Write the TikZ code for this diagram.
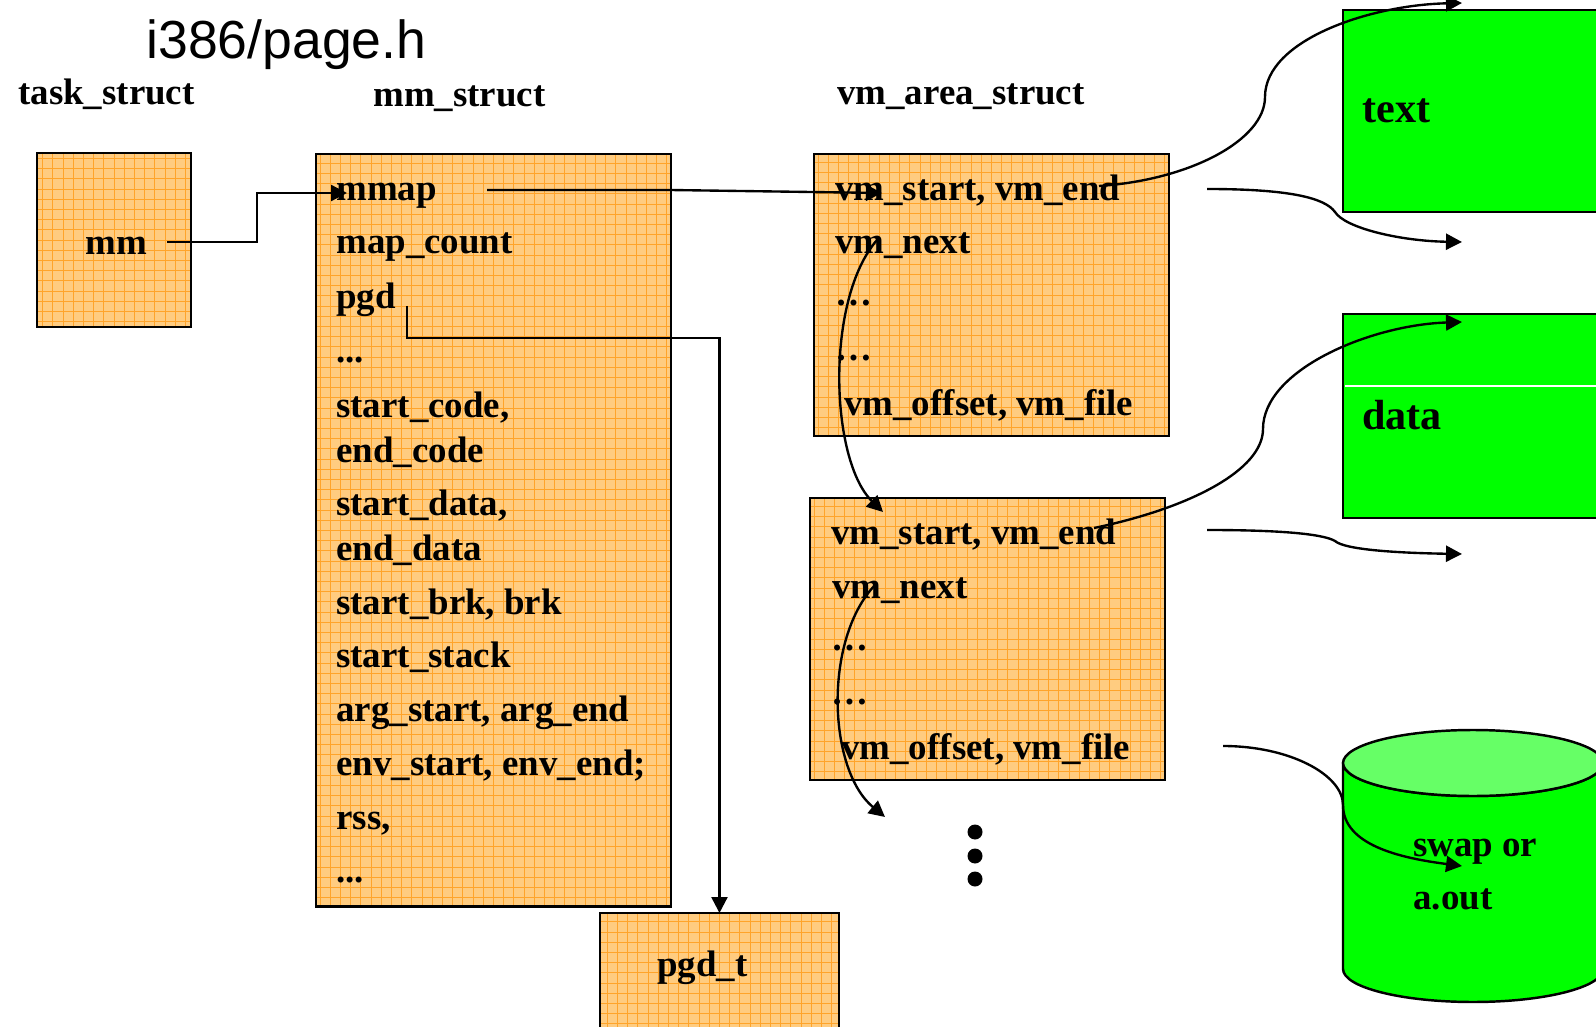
\documentclass[tikz,border=0pt]{standalone}
\usepackage{fontspec}
\setmainfont{Liberation Serif}
\newfontfamily\titlefont{Liberation Sans}
\usetikzlibrary{arrows.meta}
\definecolor{boxfill}{HTML}{FFCC80}
\definecolor{gridc}{HTML}{FFA42A}
\definecolor{segfill}{HTML}{00FF00}
\definecolor{disktop}{HTML}{66FF66}
\begin{document}
\begin{tikzpicture}[x=0.02cm,y=-0.02cm,
  lbl/.style={font=\fontsize{21}{25}\selectfont\bfseries, inner sep=0, anchor=base west},
  biglbl/.style={font=\fontsize{24}{28}\selectfont\bfseries, inner sep=0, anchor=base west},
  obox/.style={draw=black, line width=1.6pt, fill=boxfill, inner sep=0, outer sep=0,
    anchor=north west,
    path picture={\draw[gridc, line width=0.5pt, step=0.204cm]
      ([shift={(-0.3cm,-0.3cm)}]path picture bounding box.south west) grid
      ([shift={(0.3cm,0.3cm)}]path picture bounding box.north east);}},
  segbox/.style={draw=black, line width=1.6pt, fill=segfill, inner sep=0, outer sep=0,
    anchor=north west},
  link/.style={line width=1.35pt, -{Triangle[length=0.32cm,width=0.32cm]}},
]
\fill[white] (0,0) rectangle (1596,1027);
\useasboundingbox (0,0) rectangle (1596,1027);

% heading and structure names
\node[font=\fontsize{30.5}{34}\selectfont\titlefont, inner sep=0, anchor=base west] (title) at (146,59) {i386/page.h};
\node[lbl] (hTask) at (18,105) {task\_struct};
\node[lbl] (hMm) at (373,107) {mm\_struct};
\node[lbl] (hVma) at (837,105) {vm\_area\_struct};

% memory segments on the right
\node[segbox, minimum width=7.2cm, minimum height=4.04cm] (textseg) at (1343,10) {};
\node[segbox, minimum width=7.2cm, minimum height=4.08cm] (dataseg) at (1343,314) {};
\draw[white, line width=0.8pt] ([xshift=1pt]dataseg.west |- 0,386) -- (1640,386);
\node[biglbl] (textlbl) at (1362,123) {text};
\node[biglbl] (datalbl) at (1362,429) {data};

% disk
\draw[line width=1.4pt, fill=segfill] (1343,763) -- (1343,969)
  arc[start angle=180, end angle=360, x radius=2.6cm, y radius=0.66cm] -- (1603,763)
  arc[start angle=360, end angle=180, x radius=2.6cm, y radius=0.66cm] -- cycle;
\draw[line width=1.4pt, fill=disktop] (1473,763) ellipse [x radius=2.6cm, y radius=0.66cm];
\node[lbl] (swaplbl) at (1413,856) {swap or};
\node[lbl] (aoutlbl) at (1413,909) {a.out};

% task_struct
\node[obox, minimum width=3.08cm, minimum height=3.48cm] (taskbox) at (37,153) {};
\node[lbl] (mm) at (85,255) {mm};

% mm_struct
\node[obox, minimum width=7.1cm, minimum height=15.06cm] (mmbox) at (316,154) {};
\node[lbl] (mmap) at (336,201) {mmap};
\node[lbl] (mapcount) at (336,254) {map\_count};
\node[lbl] (pgd) at (336,309) {pgd};
\node[lbl] (mmdotsA) at (336,362) {...};
\node[lbl] (startcode) at (336,417) {start\_code,};
\node[lbl] (endcode) at (336,462) {end\_code};
\node[lbl] (startdata) at (336,515) {start\_data,};
\node[lbl] (enddata) at (336,560) {end\_data};
\node[lbl] (startbrk) at (336,614) {start\_brk, brk};
\node[lbl] (startstack) at (336,667) {start\_stack};
\node[lbl] (argstart) at (336,721) {arg\_start, arg\_end};
\node[lbl] (envstart) at (336,775) {env\_start, env\_end;};
\node[lbl] (rss) at (336,829) {rss,};
\node[lbl] (mmdotsB) at (336,882) {...};

% pgd_t
\node[obox, minimum width=4.78cm, minimum height=2.8cm] (pgdtbox) at (600,913) {};
\node[lbl] (pgdt) at (657,976) {pgd\_t};

% first vm_area_struct
\node[obox, minimum width=7.1cm, minimum height=5.64cm] (vmboxA) at (814,154) {};
\node[lbl] (vmstartA) at (835,201) {vm\_start, vm\_end};
\node[lbl] (vmnextA) at (835,254) {vm\_next};
\node[lbl] (vmdotsA1) at (835,306) {…};
\node[lbl] (vmdotsA2) at (835,360) {…};
\node[lbl] (vmoffA) at (844,415) {vm\_offset, vm\_file};

% second vm_area_struct
\node[obox, minimum width=7.1cm, minimum height=5.64cm] (vmboxB) at (810,498) {};
\node[lbl] (vmstartB) at (831,544) {vm\_start, vm\_end};
\node[lbl] (vmnextB) at (832,598) {vm\_next};
\node[lbl] (vmdotsB1) at (831,650) {…};
\node[lbl] (vmdotsB2) at (831,704) {…};
\node[lbl] (vmoffB) at (841,759) {vm\_offset, vm\_file};

% more areas follow
\fill (975,832) circle[radius=0.15cm];
\fill (975,856) circle[radius=0.15cm];
\fill (975,879) circle[radius=0.15cm];

% connector end points
\coordinate (mmOut) at (167,242);
\coordinate (mmapIn) at (347,193);
\coordinate (mmapOut) at (487,190);
\coordinate (vmaIn) at (882,193);
\coordinate (pgdOut) at (407,306);
\coordinate (rangeOutA) at (1099,186);
\coordinate (textIn) at (1462,3);
\coordinate (pageOutA) at (1207,189);
\coordinate (pageInA) at (1462,242);
\coordinate (nextOutA) at (877,240);
\coordinate (vmbIn) at (883,512);
\coordinate (rangeOutB) at (1094,528);
\coordinate (dataIn) at (1462,322);
\coordinate (pageOutB) at (1207,530);
\coordinate (pageInB) at (1462,554);
\coordinate (fileOutB) at (1223,746);
\coordinate (diskIn) at (1462,866);
\coordinate (nextOutB) at (875,585);
\coordinate (nextIn) at (885,817);

% connectors
\draw[link] (mmOut) -- ++(90,0) |- (mmapIn);
\draw[link] (mmapOut) -- (670,190) -- (vmaIn);
\draw[link] (pgdOut) -- ++(0,32) -| (pgdtbox.north);
\draw[link] (rangeOutA) .. controls (1190,180) and (1265,140) .. (1265,97)
  .. controls (1265,40) and (1370,5) .. (textIn);
\draw[link] (pageOutA) .. controls (1290,189) and (1325,198) .. (1335,212)
  .. controls (1345,228) and (1400,241) .. (pageInA);
\draw[link] (nextOutA) .. controls (825,300) and (830,460) .. (vmbIn);
\draw[link] (rangeOutB) .. controls (1190,508) and (1263,470) .. (1263,429)
  .. controls (1263,370) and (1370,325) .. (dataIn);
\draw[link] (pageOutB) .. controls (1290,530) and (1325,535) .. (1335,541)
  .. controls (1345,550) and (1400,553) .. (pageInB);
\draw[link] (fileOutB) .. controls (1290,746) and (1343,775) .. (1343,805)
  .. controls (1343,845) and (1400,858) .. (diskIn);
\draw[link] (nextOutB) .. controls (823,640) and (828,770) .. (nextIn);
\end{tikzpicture}
\end{document}
